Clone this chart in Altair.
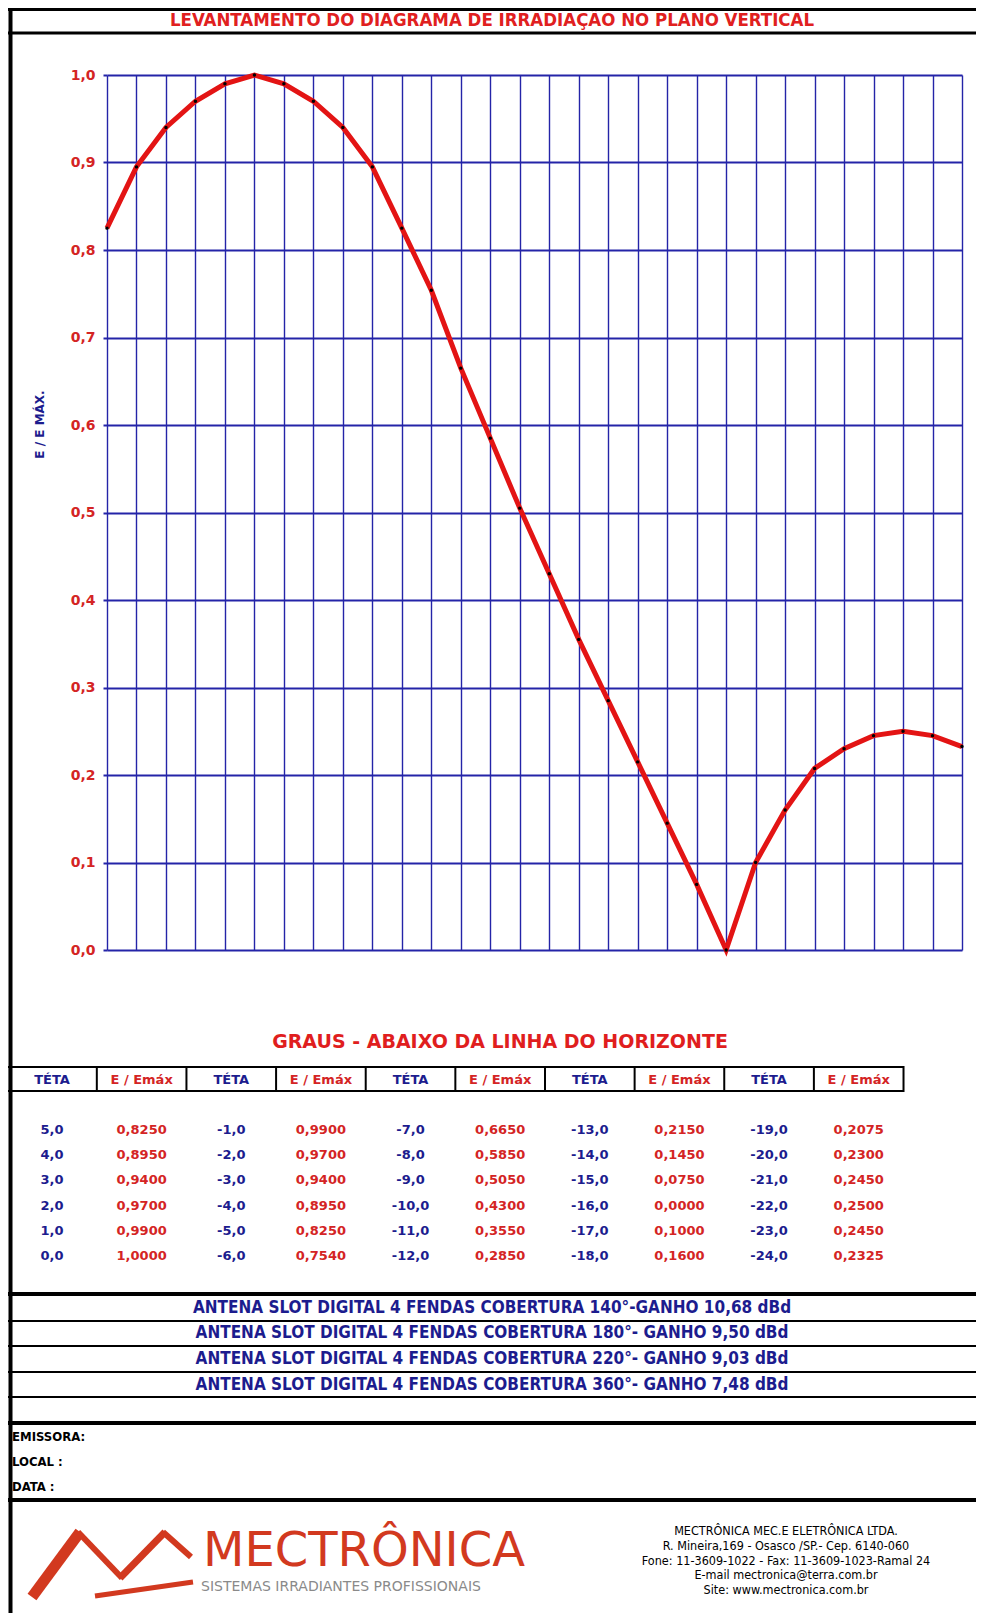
import altair as alt
import pandas as pd

# ---------------- data ----------------
teta = [5, 4, 3, 2, 1, 0, -1, -2, -3, -4, -5, -6, -7, -8, -9, -10, -11, -12,
        -13, -14, -15, -16, -17, -18, -19, -20, -21, -22, -23, -24]
emax = [0.8250, 0.8950, 0.9400, 0.9700, 0.9900, 1.0000,
        0.9900, 0.9700, 0.9400, 0.8950, 0.8250, 0.7540,
        0.6650, 0.5850, 0.5050, 0.4300, 0.3550, 0.2850,
        0.2150, 0.1450, 0.0750, 0.0000, 0.1000, 0.1600,
        0.2075, 0.2300, 0.2450, 0.2500, 0.2450, 0.2325]
y_ticks = [0.0, 0.1, 0.2, 0.3, 0.4, 0.5, 0.6, 0.7, 0.8, 0.9, 1.0]
header_labels = ["TÉTA", "E / Emáx"] * 5
antenas = [
    "ANTENA SLOT DIGITAL 4 FENDAS COBERTURA 140°-GANHO 10,68 dBd",
    "ANTENA SLOT DIGITAL 4 FENDAS COBERTURA 180°- GANHO 9,50 dBd",
    "ANTENA SLOT DIGITAL 4 FENDAS COBERTURA 220°- GANHO 9,03 dBd",
    "ANTENA SLOT DIGITAL 4 FENDAS COBERTURA 360°- GANHO 7,48 dBd",
]
campos = ["EMISSORA:", "LOCAL  :", "DATA  :"]
empresa = [
    "MECTRÔNICA MEC.E ELETRÔNICA LTDA.",
    "R. Mineira,169 - Osasco /SP.- Cep. 6140-060",
    "Fone: 11-3609-1022 - Fax:  11-3609-1023-Ramal 24",
    "E-mail mectronica@terra.com.br",
    "Site: www.mectronica.com.br",
]
titulo = "LEVANTAMENTO  DO  DIAGRAMA  DE  IRRADIAÇÃO NO  PLANO  VERTICAL"
xlabel = "GRAUS - ABAIXO DA LINHA DO HORIZONTE"
ytitle = "E / E MÁX."

RED = "#d42424"
BLUE = "#1c1c8e"
GRID = "#2424a8"
LINE = "#e31414"
LOGO = "#d2391f"
COND = "DejaVu Sans Condensed"
BOLD = "DejaVu Sans"

W, H = 855, 875

df = pd.DataFrame({"teta": teta, "emax": emax})

xs = alt.Scale(domain=[5, -24], nice=False, zero=False)
ys = alt.Scale(domain=[0, 1], nice=False)

grid = alt.Chart(df).mark_line(color=LINE, strokeWidth=5).encode(
    x=alt.X("teta:Q", scale=xs,
            axis=alt.Axis(values=list(range(-24, 6)), labels=False, ticks=False,
                          domain=False, grid=True, gridColor=GRID, gridWidth=1.4,
                          gridOpacity=1, title=None)),
    y=alt.Y("emax:Q", scale=ys,
            axis=alt.Axis(values=y_ticks,
                          labelExpr="replace(format(datum.value, '.1f'), '.', ',')",
                          labelColor=RED, labelFont=BOLD, labelFontWeight="bold",
                          labelFontSize=14, labelPadding=8, tickColor=GRID,
                          tickSize=4, tickWidth=2, domain=False, grid=True,
                          gridColor=GRID, gridWidth=2, gridOpacity=1,
                          title=ytitle, titleColor=BLUE, titleFont=BOLD,
                          titleFontSize=12, titleFontWeight="bold",
                          titleX=-61, titleY=349, titleAngle=270)),
)
pts = alt.Chart(df).mark_circle(color="black", size=12, opacity=1).encode(
    x=alt.X("teta:Q", scale=xs, axis=None),
    y=alt.Y("emax:Q", scale=ys, axis=None),
)

# ---------------- table ----------------
rows = []
for g in range(5):
    for r in range(6):
        i = g * 6 + r
        rows.append({"col": 2 * g, "row": r,
                     "txt": f"{teta[i]:.1f}".replace(".", ","), "kind": "t"})
        rows.append({"col": 2 * g + 1, "row": r,
                     "txt": f"{emax[i]:.4f}".replace(".", ","), "kind": "e"})
tab = pd.DataFrame(rows)
cs = alt.Scale(domain=[0, 9], range=[-55, 751.7])
rs = alt.Scale(domain=[0, 5], range=[1055, 1181])
colorscale = alt.Scale(domain=["t", "e"], range=[BLUE, RED])

table = alt.Chart(tab).mark_text(font=BOLD, fontWeight="bold", fontSize=13,
                                 baseline="middle").encode(
    x=alt.X("col:Q", scale=cs, axis=None),
    y=alt.Y("row:Q", scale=rs, axis=None),
    text="txt:N",
    color=alt.Color("kind:N", scale=colorscale, legend=None),
)
hdr = pd.DataFrame({"col": list(range(10)), "txt": header_labels,
                    "kind": ["t", "e"] * 5})
header = alt.Chart(hdr).mark_text(font=BOLD, fontWeight="bold", fontSize=13,
                                  baseline="middle").encode(
    x=alt.X("col:Q", scale=cs, axis=None),
    y=alt.value(1004.5),
    text="txt:N",
    color=alt.Color("kind:N", scale=colorscale, legend=None),
)
box = alt.Chart(pd.DataFrame({"a": [-0.5], "b": [9.5]})).mark_rect(
    fillOpacity=0, stroke="black", strokeWidth=2).encode(
    x=alt.X("a:Q", scale=cs, axis=None), x2="b:Q",
    y=alt.value(992), y2=alt.value(1016))
seps = alt.Chart(pd.DataFrame({"b": [k + 0.5 for k in range(9)]})).mark_rule(
    color="black", strokeWidth=2).encode(
    x=alt.X("b:Q", scale=cs, axis=None), y=alt.value(992), y2=alt.value(1016))

# ---------------- frame / texts ----------------
def hline(y, w):
    return alt.Chart(pd.DataFrame({"k": [0]})).mark_rule(color="black", strokeWidth=w).encode(
        x=alt.value(-99), x2=alt.value(869), y=alt.value(y))

frame = [
    alt.Chart(pd.DataFrame({"k": [0]})).mark_rule(color="black", strokeWidth=4).encode(
        x=alt.value(-96.5), y=alt.value(-67), y2=alt.value(1538)),
    hline(-65.5, 3), hline(-42, 3),
    hline(1219, 4), hline(1246, 2), hline(1271, 2), hline(1297, 2), hline(1322, 2),
    hline(1348, 4), hline(1425, 4),
]

def txt(s, x, y, **kw):
    return alt.Chart(pd.DataFrame({"t": [s]})).mark_text(**kw).encode(
        x=alt.value(x), y=alt.value(y), text="t:N")

title = txt(titulo, 385, -55.5, font=COND, fontWeight="bold", fontSize=18.5,
            color="#e02020", baseline="middle", align="center")
xlab = txt(xlabel, 393, 967, font=BOLD, fontWeight="bold", fontSize=19,
           color="#e01e1e", baseline="middle", align="center")

ant = alt.Chart(pd.DataFrame({"i": list(range(4)), "t": antenas})).mark_text(
    font=COND, fontWeight="bold", fontSize=17, color=BLUE, baseline="middle",
    align="center").encode(
    x=alt.value(385),
    y=alt.Y("i:Q", scale=alt.Scale(domain=[0, 3], range=[1232.5, 1309.5]), axis=None),
    text="t:N")

cam = alt.Chart(pd.DataFrame({"i": list(range(3)), "t": campos})).mark_text(
    font=COND, fontWeight="bold", fontSize=13, color="black", baseline="middle",
    align="left").encode(
    x=alt.value(-95),
    y=alt.Y("i:Q", scale=alt.Scale(domain=[0, 2], range=[1362, 1412]), axis=None),
    text="t:N")

emp = alt.Chart(pd.DataFrame({"i": list(range(5)), "t": empresa})).mark_text(
    font=COND, fontSize=12.5, color="black", baseline="middle",
    align="center").encode(
    x=alt.value(679),
    y=alt.Y("i:Q", scale=alt.Scale(domain=[0, 4], range=[1456, 1515]), axis=None),
    text="t:N")

logo_txt = txt("MECTRÔNICA", 96, 1491, font="DejaVu Sans", fontSize=48,
               color=LOGO, baseline="alphabetic", align="left")
logo_sub = txt("SISTEMAS IRRADIANTES PROFISSIONAIS", 94, 1512, font="DejaVu Sans",
               fontSize=14, color="#8a8a8a", baseline="middle", align="left")

def seg(x1, y1, x2, y2, w):
    return alt.Chart(pd.DataFrame({"k": [0]})).mark_rule(color=LOGO, strokeWidth=w,
                                                         strokeCap="butt").encode(
        x=alt.value(x1), y=alt.value(y1), x2=alt.value(x2), y2=alt.value(y2))

logo = [
    seg(-75, 1522, -27, 1457, 11),
    seg(-29, 1457, 15, 1503, 6),
    seg(13, 1503, 58, 1457, 7),
    seg(56, 1457, 84, 1482, 6),
    seg(-12, 1521, 86, 1507, 5),
]

chart = alt.layer(
    grid, pts, box, seps, header, table, title, xlab, ant, cam, emp,
    logo_txt, logo_sub, *frame, *logo
).resolve_scale(x="independent", y="independent", color="independent").properties(
    width=W, height=H,
    autosize=alt.AutoSizeParams(type="none"),
    padding={"left": 99, "top": 67, "right": 14, "bottom": 663},
    background="white",
).configure_view(strokeWidth=0)

chart.save("out.html", embed_options={"renderer": "svg", "actions": False})
